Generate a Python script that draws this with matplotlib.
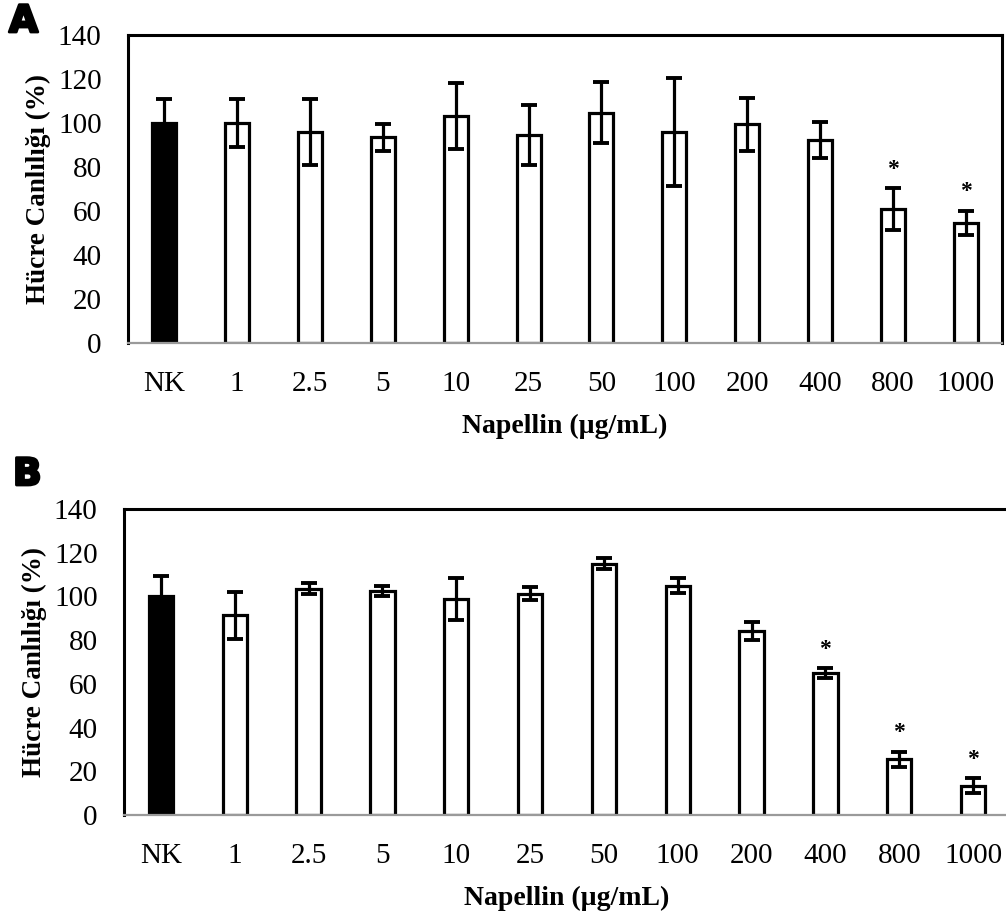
import numpy as np
import matplotlib
matplotlib.use("Agg")
import matplotlib.pyplot as plt
import matplotlib.patheffects as pe

kategoriler = ["NK", "1", "2.5", "5", "10", "25", "50", "100", "200", "400", "800", "1000"]

# Panel A
canlilik_a = [100, 100, 96, 93.5, 103, 94.5, 104.7, 96, 99.5, 92.3, 60.8, 54.7]
hata_a = [11, 11, 15, 6, 15, 13.5, 14, 24.5, 12, 8.3, 9.5, 5.5]
yildiz_a = [10, 11]

# Panel B
canlilik_b = [100, 91.3, 103.5, 102.6, 98.7, 101.2, 114.9, 105, 84.2, 64.9, 25.5, 13.4]
hata_b = [9.5, 10.7, 2.5, 2.3, 9.7, 3, 2.5, 3.5, 4, 2.4, 3.5, 3.3]
yildiz_b = [9, 10, 11]

W, H = 1006, 917
fig = plt.figure(figsize=(W / 100, H / 100), dpi=100)
serif = "Liberation Serif"


def panel(rect, degerler, hatalar, yildizlar, harf, harf_xy):
    l, b, r, t = rect
    ax = fig.add_axes([l / W, (H - b) / H, (r - l) / W, (b - t) / H])
    x = np.arange(len(kategoriler))
    renkler = ["black"] + ["white"] * (len(kategoriler) - 1)
    ax.bar(x, degerler, width=0.33, color=renkler, edgecolor="black",
           linewidth=2.3, zorder=2)
    ax.errorbar(x, degerler, yerr=hatalar, fmt="none", ecolor="black",
                elinewidth=2.3, capsize=5.5, capthick=2.8, zorder=3)
    for i in yildizlar:
        ax.annotate("*", (x[i], degerler[i] + hatalar[i]), xytext=(0, 6),
                    textcoords="offset points", ha="center", va="bottom",
                    fontsize=17, fontweight="bold", family=serif)
    ax.set_xlim(-0.5, len(kategoriler) - 0.5)
    ax.set_ylim(0, 140)
    ax.set_yticks(np.arange(0, 141, 20))
    ax.set_xticks(x)
    ax.set_xticklabels(kategoriler)
    ax.tick_params(length=0, labelsize=21)
    ax.tick_params(axis="y", pad=19)
    ax.tick_params(axis="x", pad=20)
    for lab in ax.get_xticklabels() + ax.get_yticklabels():
        lab.set_family(serif)
    for s in ["top", "left", "right"]:
        ax.spines[s].set_linewidth(2.2)
        ax.spines[s].set_color("black")
    ax.spines["bottom"].set_linewidth(1.6)
    ax.spines["bottom"].set_color("#9a9a9a")
    ax.set_xlabel("Napellin (µg/mL)", fontsize=20, fontweight="bold",
                  family=serif, labelpad=12)
    ax.set_ylabel("Hücre Canlılığı (%)", fontsize=19.5, fontweight="bold",
                  family=serif, labelpad=5)
    fig.text(harf_xy[0] / W, 1 - harf_xy[1] / H, harf, fontsize=27,
             fontweight="heavy", family="DejaVu Sans", ha="left", va="baseline",
             path_effects=[pe.withStroke(linewidth=2, foreground="black")])
    return ax


panel((128, 343, 1002, 35), canlilik_a, hata_a, yildiz_a, "A", (9, 32))
panel((124, 815, 1010, 509), canlilik_b, hata_b, yildiz_b, "B", (13, 485))

fig.savefig("out.png", dpi=100, facecolor="white")
